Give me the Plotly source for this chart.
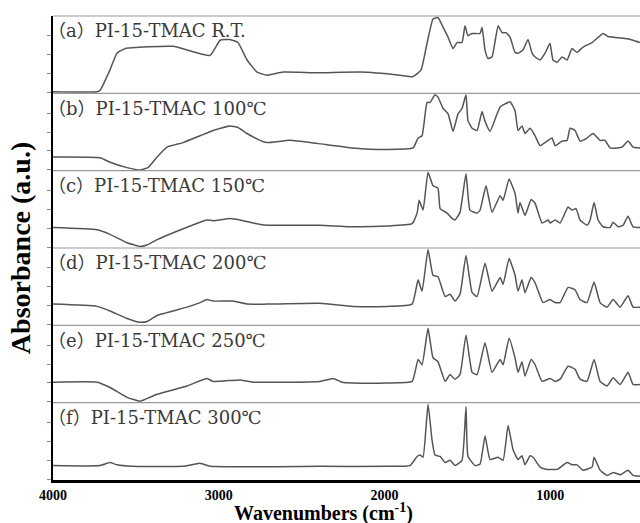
import plotly.graph_objects as go
from plotly.subplots import make_subplots

# (wavenumber cm-1, relative absorbance within panel)
spec_a = [(4000, 0.01), (3734, 0.01), (3716, 0.03), (3656, 0.30), (3614, 0.52), (3565, 0.58),
          (3276, 0.61), (3052, 0.49), (2992, 0.69), (2932, 0.70), (2884, 0.66), (2829, 0.43),
          (2769, 0.27), (2709, 0.23), (2612, 0.27), (2407, 0.26), (2147, 0.27), (1906, 0.23),
          (1827, 0.21), (1779, 0.30), (1743, 0.65), (1707, 0.97), (1677, 0.99), (1646, 0.86),
          (1616, 0.73), (1586, 0.58), (1562, 0.66), (1532, 0.66), (1514, 0.88), (1496, 0.75),
          (1471, 0.78), (1423, 0.78), (1411, 0.86), (1393, 0.56), (1375, 0.45), (1351, 0.47),
          (1314, 0.88), (1290, 0.79), (1266, 0.79), (1242, 0.73), (1212, 0.53), (1194, 0.52),
          (1164, 0.56), (1134, 0.70), (1109, 0.52), (1091, 0.47), (1061, 0.43), (1031, 0.52),
          (1001, 0.65), (983, 0.43), (958, 0.40), (928, 0.47), (898, 0.43), (868, 0.58),
          (838, 0.53), (802, 0.60), (747, 0.66), (681, 0.78), (651, 0.74), (536, 0.71),
          (500, 0.69), (458, 0.66)]

spec_b = [(4000, 0.17), (3716, 0.16), (3656, 0.10), (3553, 0.03), (3475, 0.00), (3427, 0.03),
          (3372, 0.17), (3312, 0.30), (3215, 0.36), (3113, 0.45), (3034, 0.52), (2932, 0.58),
          (2884, 0.56), (2829, 0.48), (2751, 0.39), (2709, 0.36), (2570, 0.39), (2407, 0.35),
          (2190, 0.29), (1984, 0.27), (1827, 0.29), (1797, 0.42), (1773, 0.45), (1743, 0.89),
          (1725, 0.89), (1695, 0.99), (1677, 0.96), (1646, 0.81), (1616, 0.74), (1586, 0.51),
          (1556, 0.74), (1532, 0.81), (1508, 0.99), (1496, 0.65), (1471, 0.55), (1441, 0.52),
          (1411, 0.77), (1393, 0.64), (1363, 0.51), (1320, 0.74), (1302, 0.83), (1272, 0.87),
          (1242, 0.90), (1212, 0.78), (1194, 0.52), (1170, 0.58), (1152, 0.48), (1121, 0.55),
          (1091, 0.45), (1061, 0.32), (1019, 0.38), (989, 0.42), (970, 0.32), (928, 0.38),
          (898, 0.39), (880, 0.55), (850, 0.52), (820, 0.38), (778, 0.42), (741, 0.48),
          (699, 0.39), (669, 0.39), (639, 0.29), (596, 0.29), (566, 0.30), (530, 0.38),
          (500, 0.30), (458, 0.29)]

spec_c = [(4000, 0.26), (3734, 0.23), (3656, 0.17), (3553, 0.06), (3475, 0.01), (3433, 0.03),
          (3372, 0.10), (3252, 0.21), (3113, 0.33), (3071, 0.36), (3034, 0.35), (2932, 0.38),
          (2871, 0.36), (2793, 0.32), (2709, 0.29), (2509, 0.29), (2389, 0.29), (2190, 0.27),
          (1984, 0.28), (1833, 0.31), (1803, 0.45), (1791, 0.62), (1767, 0.49), (1737, 0.99),
          (1707, 0.81), (1677, 0.78), (1664, 0.51), (1622, 0.45), (1592, 0.38), (1574, 0.36),
          (1544, 0.46), (1508, 0.97), (1484, 0.49), (1441, 0.45), (1423, 0.49), (1387, 0.81),
          (1351, 0.46), (1302, 0.68), (1284, 0.62), (1248, 0.90), (1212, 0.71), (1194, 0.45),
          (1182, 0.59), (1152, 0.42), (1115, 0.63), (1091, 0.58), (1049, 0.32), (1013, 0.36),
          (1001, 0.32), (970, 0.36), (940, 0.32), (892, 0.53), (868, 0.49), (844, 0.51),
          (820, 0.36), (778, 0.29), (759, 0.36), (735, 0.59), (711, 0.36), (681, 0.27),
          (639, 0.26), (620, 0.33), (590, 0.27), (560, 0.29), (530, 0.41), (500, 0.27),
          (458, 0.26)]

spec_d = [(4000, 0.27), (3734, 0.24), (3656, 0.18), (3553, 0.08), (3475, 0.03), (3433, 0.04),
          (3372, 0.12), (3191, 0.23), (3113, 0.29), (3071, 0.33), (3034, 0.31), (2914, 0.31),
          (2829, 0.27), (2709, 0.27), (2389, 0.28), (2190, 0.24), (1984, 0.24), (1833, 0.27),
          (1797, 0.59), (1773, 0.44), (1737, 0.99), (1707, 0.65), (1677, 0.63), (1634, 0.37),
          (1604, 0.40), (1574, 0.31), (1544, 0.40), (1508, 0.91), (1471, 0.42), (1441, 0.37),
          (1393, 0.81), (1351, 0.44), (1302, 0.62), (1284, 0.53), (1248, 0.87), (1212, 0.65),
          (1194, 0.44), (1170, 0.59), (1152, 0.42), (1115, 0.62), (1091, 0.55), (1043, 0.29),
          (1001, 0.33), (970, 0.29), (940, 0.29), (892, 0.49), (850, 0.46), (820, 0.33),
          (778, 0.29), (735, 0.56), (699, 0.29), (657, 0.23), (620, 0.33), (578, 0.23),
          (530, 0.38), (500, 0.23), (458, 0.23)]

spec_e = [(4000, 0.26), (3734, 0.26), (3656, 0.19), (3553, 0.06), (3475, 0.01), (3427, 0.05),
          (3372, 0.10), (3191, 0.21), (3071, 0.31), (3034, 0.27), (2871, 0.29), (2793, 0.26),
          (2389, 0.27), (2310, 0.31), (2256, 0.26), (2190, 0.25), (1984, 0.25), (1833, 0.27),
          (1797, 0.56), (1773, 0.49), (1737, 0.97), (1707, 0.58), (1677, 0.53), (1634, 0.27),
          (1604, 0.36), (1574, 0.30), (1544, 0.36), (1508, 0.88), (1471, 0.39), (1441, 0.36),
          (1393, 0.78), (1351, 0.39), (1302, 0.56), (1284, 0.49), (1248, 0.84), (1212, 0.58),
          (1194, 0.39), (1170, 0.53), (1152, 0.34), (1115, 0.56), (1091, 0.49), (1049, 0.27),
          (1001, 0.31), (970, 0.27), (940, 0.30), (892, 0.47), (850, 0.43), (820, 0.30),
          (778, 0.27), (735, 0.56), (699, 0.27), (657, 0.21), (620, 0.32), (578, 0.23),
          (530, 0.39), (500, 0.23), (458, 0.23)]

spec_f = [(4000, 0.18), (3716, 0.18), (3656, 0.22), (3614, 0.19), (3517, 0.17), (3215, 0.17),
          (3113, 0.21), (3052, 0.17), (2389, 0.17), (1984, 0.17), (1846, 0.18), (1803, 0.30),
          (1785, 0.32), (1767, 0.29), (1737, 0.99), (1713, 0.52), (1695, 0.32), (1664, 0.30),
          (1634, 0.22), (1604, 0.25), (1574, 0.18), (1532, 0.25), (1508, 0.96), (1496, 0.30),
          (1453, 0.18), (1423, 0.20), (1393, 0.57), (1363, 0.26), (1314, 0.29), (1284, 0.25),
          (1254, 0.71), (1224, 0.39), (1194, 0.26), (1170, 0.31), (1152, 0.19), (1121, 0.31),
          (1103, 0.29), (1061, 0.16), (1019, 0.13), (958, 0.13), (898, 0.22), (868, 0.19),
          (838, 0.19), (802, 0.12), (747, 0.16), (735, 0.29), (699, 0.12), (657, 0.05),
          (620, 0.09), (578, 0.06), (530, 0.12), (500, 0.05), (458, 0.04)]

panel_labels = ["（a）PI-15-TMAC R.T.", "（b）PI-15-TMAC 100℃", "（c）PI-15-TMAC 150℃",
                "（d）PI-15-TMAC 200℃", "（e）PI-15-TMAC 250℃", "（f）PI-15-TMAC 300℃"]
x_ticks = [4000, 3000, 2000, 1000]
x_title = "Wavenumbers (cm<sup>-1</sup>)"
y_title = "Absorbance (a.u.)"

specs = [spec_a, spec_b, spec_c, spec_d, spec_e, spec_f]
n = len(specs)

fig = make_subplots(rows=n, cols=1, shared_xaxes=True, vertical_spacing=0)

serif = "Liberation Serif, Times New Roman, serif"
label_font = dict(family="DejaVu Serif, Noto Sans CJK SC, serif", size=18, color="#3a3a3a")

for i, (spec, lab) in enumerate(zip(specs, panel_labels), start=1):
    xs = [p[0] for p in spec]
    ys = [p[1] for p in spec]
    fig.add_trace(go.Scatter(x=xs, y=ys, mode="lines",
                             line=dict(color="#555555", width=1.5, shape="spline", smoothing=0.4),
                             showlegend=False, hoverinfo="skip"), row=i, col=1)
    fig.update_yaxes(range=[-0.01, 1.01], tickvals=[0, 0.25, 0.5, 0.75], ticks="outside",
                     ticklen=4, tickcolor="#888888", tickwidth=1, showticklabels=False,
                     showgrid=False, zeroline=False, showline=True, linecolor="black",
                     linewidth=2, row=i, col=1)
    yref = "y domain" if i == 1 else f"y{i} domain"
    fig.add_annotation(text=lab, xref="paper", yref=yref, x=-0.012, y=0.81,
                       xanchor="left", yanchor="middle", showarrow=False, font=label_font)

fig.update_xaxes(range=[4000, 458], showgrid=False, zeroline=False, ticks="")
fig.update_xaxes(showline=True, linecolor="black", linewidth=2.5, tickvals=x_ticks,
                 tickfont=dict(family=serif, size=14, color="black", weight="bold"),
                 row=n, col=1)

# panel separator lines
for k in range(1, n + 1):
    fig.add_shape(type="line", xref="paper", yref="paper", x0=0, x1=1, y0=k / n, y1=k / n,
                  line=dict(color="#999999", width=1.2))

fig.add_annotation(text=f"<b>{x_title}</b>", xref="paper", yref="paper", x=0.46, y=-0.07,
                   xanchor="center", yanchor="middle", showarrow=False,
                   font=dict(family=serif, size=20, color="black"))
fig.add_annotation(text=f"<b>{y_title}</b>", xref="paper", yref="paper", x=-0.056, y=0.5,
                   xanchor="center", yanchor="middle", textangle=-90, showarrow=False,
                   font=dict(family=serif, size=28, color="black"))

fig.update_layout(width=640, height=523, margin=dict(l=53, r=0, t=16, b=43),
                  paper_bgcolor="white", plot_bgcolor="white")

fig.write_html("out.html")
